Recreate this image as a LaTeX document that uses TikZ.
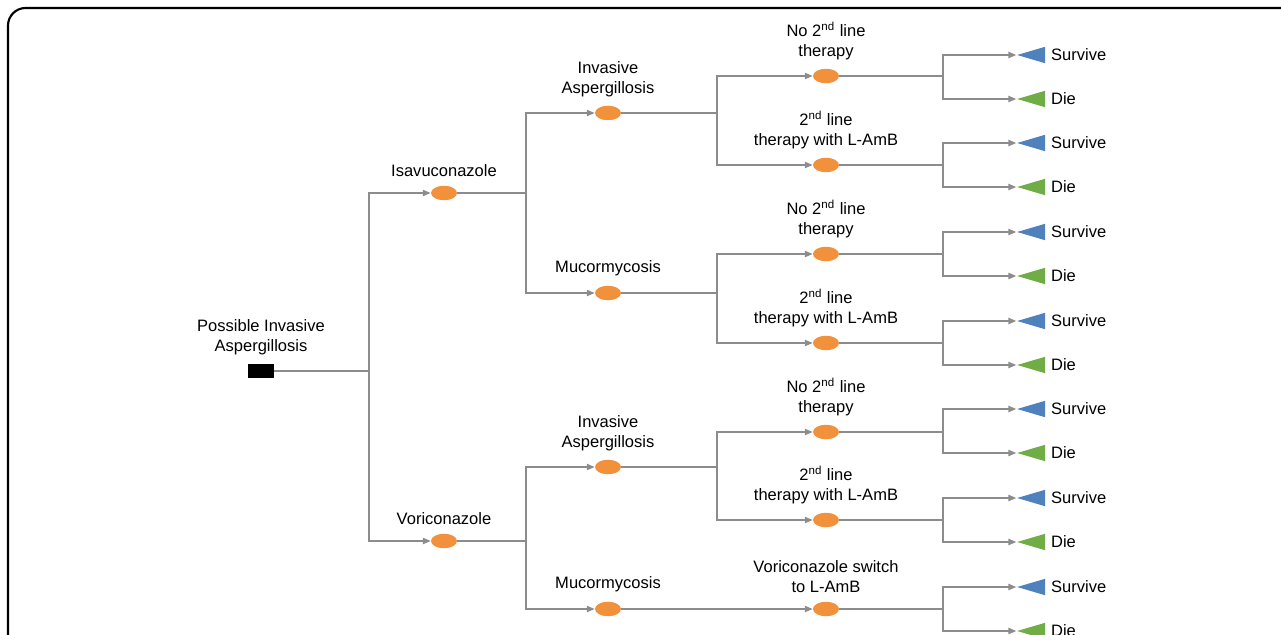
\documentclass[tikz,border=0pt]{standalone}
\usepackage{fontspec}
\setmainfont{Liberation Sans}
\usepackage{xcolor}
\definecolor{myorange}{RGB}{241,145,60}
\definecolor{myblue}{RGB}{79,129,189}
\definecolor{mygreen}{RGB}{112,173,71}
\definecolor{mygray}{RGB}{140,140,140}
\usepackage{tikz}
\usetikzlibrary{arrows.meta, positioning, shapes.geometric}

\begin{document}
\begin{tikzpicture}[
  x=0.02cm, y=-0.02cm,
  font=\fontsize{9.4}{11.3}\selectfont,
  decision/.style={rectangle, fill=black, minimum width=0.52cm,
                   minimum height=0.28cm, inner sep=0pt},
  chance/.style  ={ellipse, fill=myorange, minimum width=0.52cm,
                   minimum height=0.29cm, inner sep=0pt},
  term/.style    ={isosceles triangle, shape border rotate=180,
                   isosceles triangle stretches, minimum width=0.33cm,
                   minimum height=0.56cm, inner sep=0pt},
  survive/.style ={term, fill=myblue},
  die/.style     ={term, fill=mygreen},
  lbl/.style     ={align=center, inner sep=1pt},
  line/.style    ={draw=mygray, line width=0.8pt},
  link/.style    ={line, -{Triangle[length=4.5pt, width=3.6pt]}},
]
\useasboundingbox (0,0) rectangle (1281,635);
\draw[line width=1.2pt, rounded corners=10pt] (8,8) rectangle (1300,670);

%% --- noeud de decision ---
\node[decision] (root) at (261,371) {};
\node[lbl, above=4pt of root] (root-l) {Possible Invasive\\Aspergillosis};

%% --- traitements ---
\node[chance] (iz) at (444,193) {};
\node[chance] (vz) at (444,541) {};
\node[lbl, above=4pt of iz] (iz-l) {Isavuconazole};
\node[lbl, above=4pt of vz] (vz-l) {Voriconazole};

%% --- infections ---
\node[chance] (iz-ia) at (608,113) {};
\node[chance] (iz-mu) at (608,293) {};
\node[chance] (vz-ia) at (608,467) {};
\node[chance] (vz-mu) at (608,609) {};
\node[lbl, above=3.5pt of iz-ia] (iz-ia-l) {Invasive\\Aspergillosis};
\node[lbl, above=4pt of iz-mu] (iz-mu-l) {Mucormycosis};
\node[lbl, above=3.5pt of vz-ia] (vz-ia-l) {Invasive\\Aspergillosis};
\node[lbl, above=4pt of vz-mu] (vz-mu-l) {Mucormycosis};

%% --- 2e ligne ---
\node[chance] (a1) at (826,76)  {};
\node[chance] (a2) at (826,165) {};
\node[chance] (b1) at (826,254) {};
\node[chance] (b2) at (826,343) {};
\node[chance] (c1) at (826,432) {};
\node[chance] (c2) at (826,520) {};
\node[chance] (d1) at (826,609) {};
\node[lbl, above=3.5pt of a1] (a1-l) {No 2\textsuperscript{nd} line\\therapy};
\node[lbl, above=3.5pt of a2] (a2-l) {2\textsuperscript{nd} line\\therapy with L-AmB};
\node[lbl, above=3.5pt of b1] (b1-l) {No 2\textsuperscript{nd} line\\therapy};
\node[lbl, above=3.5pt of b2] (b2-l) {2\textsuperscript{nd} line\\therapy with L-AmB};
\node[lbl, above=3.5pt of c1] (c1-l) {No 2\textsuperscript{nd} line\\therapy};
\node[lbl, above=3.5pt of c2] (c2-l) {2\textsuperscript{nd} line\\therapy with L-AmB};
\node[lbl, above=4pt of d1] (d1-l) {Voriconazole switch\\to L-AmB};

%% --- issues ---
\node[survive] (a1s) at (1039,55)  {};
\node[die]     (a1d) at (1039,99)  {};
\node[survive] (a2s) at (1039,143) {};
\node[die]     (a2d) at (1039,187) {};
\node[survive] (b1s) at (1039,232) {};
\node[die]     (b1d) at (1039,276) {};
\node[survive] (b2s) at (1039,321) {};
\node[die]     (b2d) at (1039,365) {};
\node[survive] (c1s) at (1039,409) {};
\node[die]     (c1d) at (1039,453) {};
\node[survive] (c2s) at (1039,498) {};
\node[die]     (c2d) at (1039,542) {};
\node[survive] (d1s) at (1039,587) {};
\node[die]     (d1d) at (1039,631) {};
\foreach \t in {a1,a2,b1,b2,c1,c2,d1} {
  \node[lbl, right=2pt of \t s, anchor=west] (\t s-l) {Survive};
  \node[lbl, right=2pt of \t d, anchor=west] (\t d-l) {Die};
}

%% --- points de jonction ---
\coordinate (j0)  at (369,371);
\coordinate (jiz) at (526,193);
\coordinate (jvz) at (526,541);
\coordinate (j1)  at (717,113);
\coordinate (j2)  at (717,293);
\coordinate (j3)  at (717,467);

%% --- branches ---
\draw[line] (root) -- (j0);
\draw[link] (j0) |- (iz);
\draw[link] (j0) |- (vz);
\draw[line] (iz) -- (jiz);
\draw[link] (jiz) |- (iz-ia);
\draw[link] (jiz) |- (iz-mu);
\draw[line] (vz) -- (jvz);
\draw[link] (jvz) |- (vz-ia);
\draw[link] (jvz) |- (vz-mu);
\draw[line] (iz-ia) -- (j1);
\draw[link] (j1) |- (a1);
\draw[link] (j1) |- (a2);
\draw[line] (iz-mu) -- (j2);
\draw[link] (j2) |- (b1);
\draw[link] (j2) |- (b2);
\draw[line] (vz-ia) -- (j3);
\draw[link] (j3) |- (c1);
\draw[link] (j3) |- (c2);
\draw[link] (vz-mu) -- (d1);
\foreach \t in {a1,a2,b1,b2,c1,c2,d1} {
  \draw[line] (\t) -- ++(117,0) coordinate (\t-j);
  \draw[link] (\t-j) |- (\t s);
  \draw[link] (\t-j) |- (\t d);
}
\end{tikzpicture}
\end{document}
